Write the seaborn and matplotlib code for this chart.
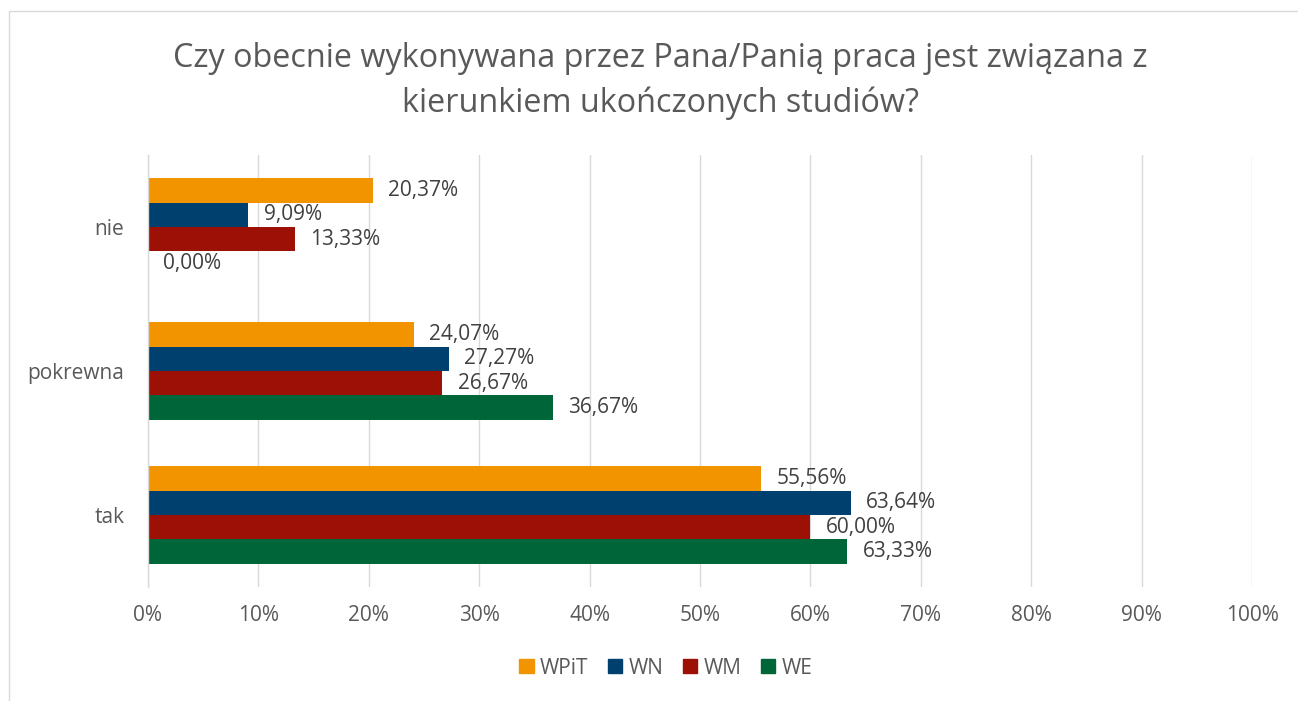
import matplotlib
matplotlib.use("Agg")
import matplotlib.pyplot as plt
import seaborn as sns
import pandas as pd
from matplotlib.patches import Rectangle

categories = ["nie", "pokrewna", "tak"]
series = ["WPiT", "WN", "WM", "WE"]
wpit = [20.37, 24.07, 55.56]
wn = [9.09, 27.27, 63.64]
wm = [13.33, 26.67, 60.00]
we = [0.00, 36.67, 63.33]
xticks = [0, 10, 20, 30, 40, 50, 60, 70, 80, 90, 100]
colors = ["#F29400", "#00406F", "#9C1006", "#00663A"]
title = "Czy obecnie wykonywana przez Pana/Panią praca jest związana z\nkierunkiem ukończonych studiów?"

rows = []
for s, vals in zip(series, [wpit, wn, wm, we]):
    for c, v in zip(categories, vals):
        rows.append({"kat": c, "seria": s, "val": v})
df = pd.DataFrame(rows)

sns.set_theme(style="white")
plt.rcParams["font.family"] = ["Open Sans", "DejaVu Sans"]

fig = plt.figure(figsize=(12.98, 7.01), dpi=100)
ax = fig.add_axes([148/1298, 1-587/701, (1252-148)/1298, (587-155)/701])

sns.barplot(data=df, y="kat", x="val", hue="seria", order=categories,
            hue_order=series, palette=colors, orient="h", width=0.68,
            saturation=1, ax=ax, legend=False, errorbar=None, linewidth=0)

for cont in ax.containers:
    for bar in cont:
        w = bar.get_width()
        yc = bar.get_y() + bar.get_height()/2
        ax.annotate(f"{w:.2f}%".replace(".", ","), (w, yc), xytext=(11, 0),
                    textcoords="offset points", va="center", ha="left",
                    fontsize=15, color="#404040")

ax.set_xlim(0, 100)
ax.set_xticks(xticks)
ax.set_xticklabels([f"{t}%" for t in xticks], fontsize=15, color="#595959")
ax.tick_params(axis="y", labelsize=15, labelcolor="#595959", length=0, pad=17)
ax.tick_params(axis="x", length=0, pad=13)
ax.set_xlabel("")
ax.set_ylabel("")
ax.grid(axis="x", color="#D9D9D9", linewidth=1)
ax.set_axisbelow(True)
for sp in ["top", "right", "bottom"]:
    ax.spines[sp].set_visible(False)
ax.spines["left"].set_color("#D9D9D9")
ax.spines["left"].set_linewidth(1)

handles = [Rectangle((0, 0), 1, 1, color=c) for c in colors]
fig.legend(handles, series, loc="center", bbox_to_anchor=(666/1298, 1-668/701),
           ncol=4, frameon=False, fontsize=15, handlelength=0.68, handleheight=0.68,
           columnspacing=0.95, handletextpad=0.3, labelcolor="#595959",
           borderpad=0, borderaxespad=0)

fig.text(660/1298, 1-81/701, title, ha="center", va="center", fontsize=23.3,
         color="#595959", linespacing=1.45)

fig.patches.append(Rectangle((9/1298, -0.1), 1.2, 1-11/701+0.1, transform=fig.transFigure,
                             fill=False, edgecolor="#D9D9D9", linewidth=1))

fig.savefig("out.png", dpi=100)
